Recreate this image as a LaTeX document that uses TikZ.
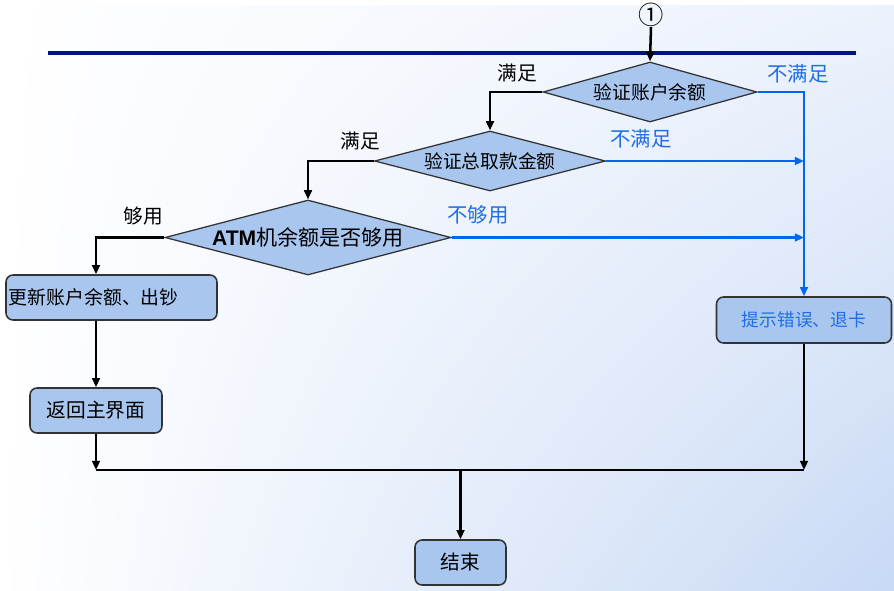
\documentclass[tikz,border=0pt]{standalone}
\usepackage{fontspec}
\setmainfont{Noto Sans CJK SC}
\newfontfamily\atmfont{Liberation Sans}
\usetikzlibrary{shapes.geometric,arrows.meta,shadings}
\definecolor{boxfill}{RGB}{169,198,238}
\definecolor{flowblue}{RGB}{0,102,240}
\definecolor{txtblue}{RGB}{30,110,230}
\definecolor{navyline}{RGB}{0,20,130}
\definecolor{bgblue}{RGB}{200,217,245}
\definecolor{bgtop}{RGB}{236,242,252}
\def\pxu{0.025cm}
\tikzset{
  decide/.style={diamond, draw=black!80, fill=boxfill, aspect=4, inner sep=0pt, line width=0.9pt},
  stepbox/.style={rectangle, rounded corners=5pt, draw=black!80, fill=boxfill, line width=1.1pt, inner sep=0pt},
  flow/.style={->, line width=1.8pt, black},
  noflow/.style={->, line width=2pt, flowblue},
  oklbl/.style={font=\fontsize{14}{16}\selectfont},
  faillbl/.style={font=\fontsize{14.5}{16}\selectfont, text=txtblue},
}
\begin{document}
\begin{tikzpicture}[x=0.025cm, y=-0.025cm, >={Triangle[length=6.5pt,width=5.5pt]}]
\useasboundingbox (0,0) rectangle (894,591);
\shade[upper left=white, upper right=bgtop, lower left=white, lower right=bgblue] (0,6) rectangle (894,591);
\draw[navyline, line width=2.8pt] (48,53) -- (856,53);
% decisions: account balance, total amount, cash left in the machine
\node[font=\fontsize{18}{19}\selectfont, inner sep=0pt] (st) at (651,15) {①};
\node[decide, minimum width=214*\pxu, minimum height=60*\pxu, font=\fontsize{13.3}{15}\selectfont] (chkacct) at (650,92) {验证账户余额};
\node[decide, minimum width=231*\pxu, minimum height=60*\pxu, font=\fontsize{13.3}{15}\selectfont] (chktotal) at (490,161) {验证总取款金额};
\node[decide, minimum width=286*\pxu, minimum height=75*\pxu, font=\fontsize{15}{17}\selectfont] (chkatm) at (308,237.5) {{\atmfont\bfseries ATM}机余额是否够用};
\node[stepbox, minimum height=45*\pxu, text width=205*\pxu, inner xsep=3*\pxu, align=left, font=\fontsize{13.4}{15}\selectfont] (upd) at (111.5,297.5) {更新账户余额、出钞};
\node[stepbox, minimum width=132*\pxu, minimum height=45*\pxu, font=\fontsize{14}{16}\selectfont] (back) at (96,410.5) {返回主界面};
\node[stepbox, minimum width=175*\pxu, minimum height=46*\pxu, text=txtblue, font=\fontsize{12.6}{15}\selectfont] (err) at (804,320) {提示错误、退卡};
\node[stepbox, minimum width=91*\pxu, minimum height=45*\pxu, font=\fontsize{14}{16}\selectfont] (fin) at (460.5,562.5) {结束};
\node[oklbl] (ok1) at (517,73) {满足};
\node[faillbl] (no1) at (798,74) {不满足};
\node[oklbl] (ok2) at (360,141) {满足};
\node[faillbl] (no2) at (641,139) {不满足};
\node[oklbl] (ok3) at (143,216) {够用};
\node[faillbl] (no3) at (478,215) {不够用};
\coordinate (joinl) at (96,470);
\coordinate (joinr) at (err.south |- joinl);
\draw[flow] (st.south) -- (chkacct.north);
\foreach \a/\b in {chkacct/chktotal, chktotal/chkatm}
  \draw[flow] (\a.west) -| (\b.north);
\draw[flow] (chkatm.west) -| (upd.north -| back.north);
\draw[flow] (upd.south -| back.north) -- (back.north);
\draw[flow] (back.south) -- (joinl);
\draw[noflow] (chkacct.east) -| (err.north);
\foreach \a in {chktotal, chkatm}
  \draw[noflow] (\a.east) -- (\a.east -| err.north);
\draw[flow] (err.south) -- (joinr);
\draw[line width=1.8pt] (joinl) -- (joinr);
\draw[flow] (fin.north |- joinl) -- (fin.north);
\end{tikzpicture}
\end{document}
